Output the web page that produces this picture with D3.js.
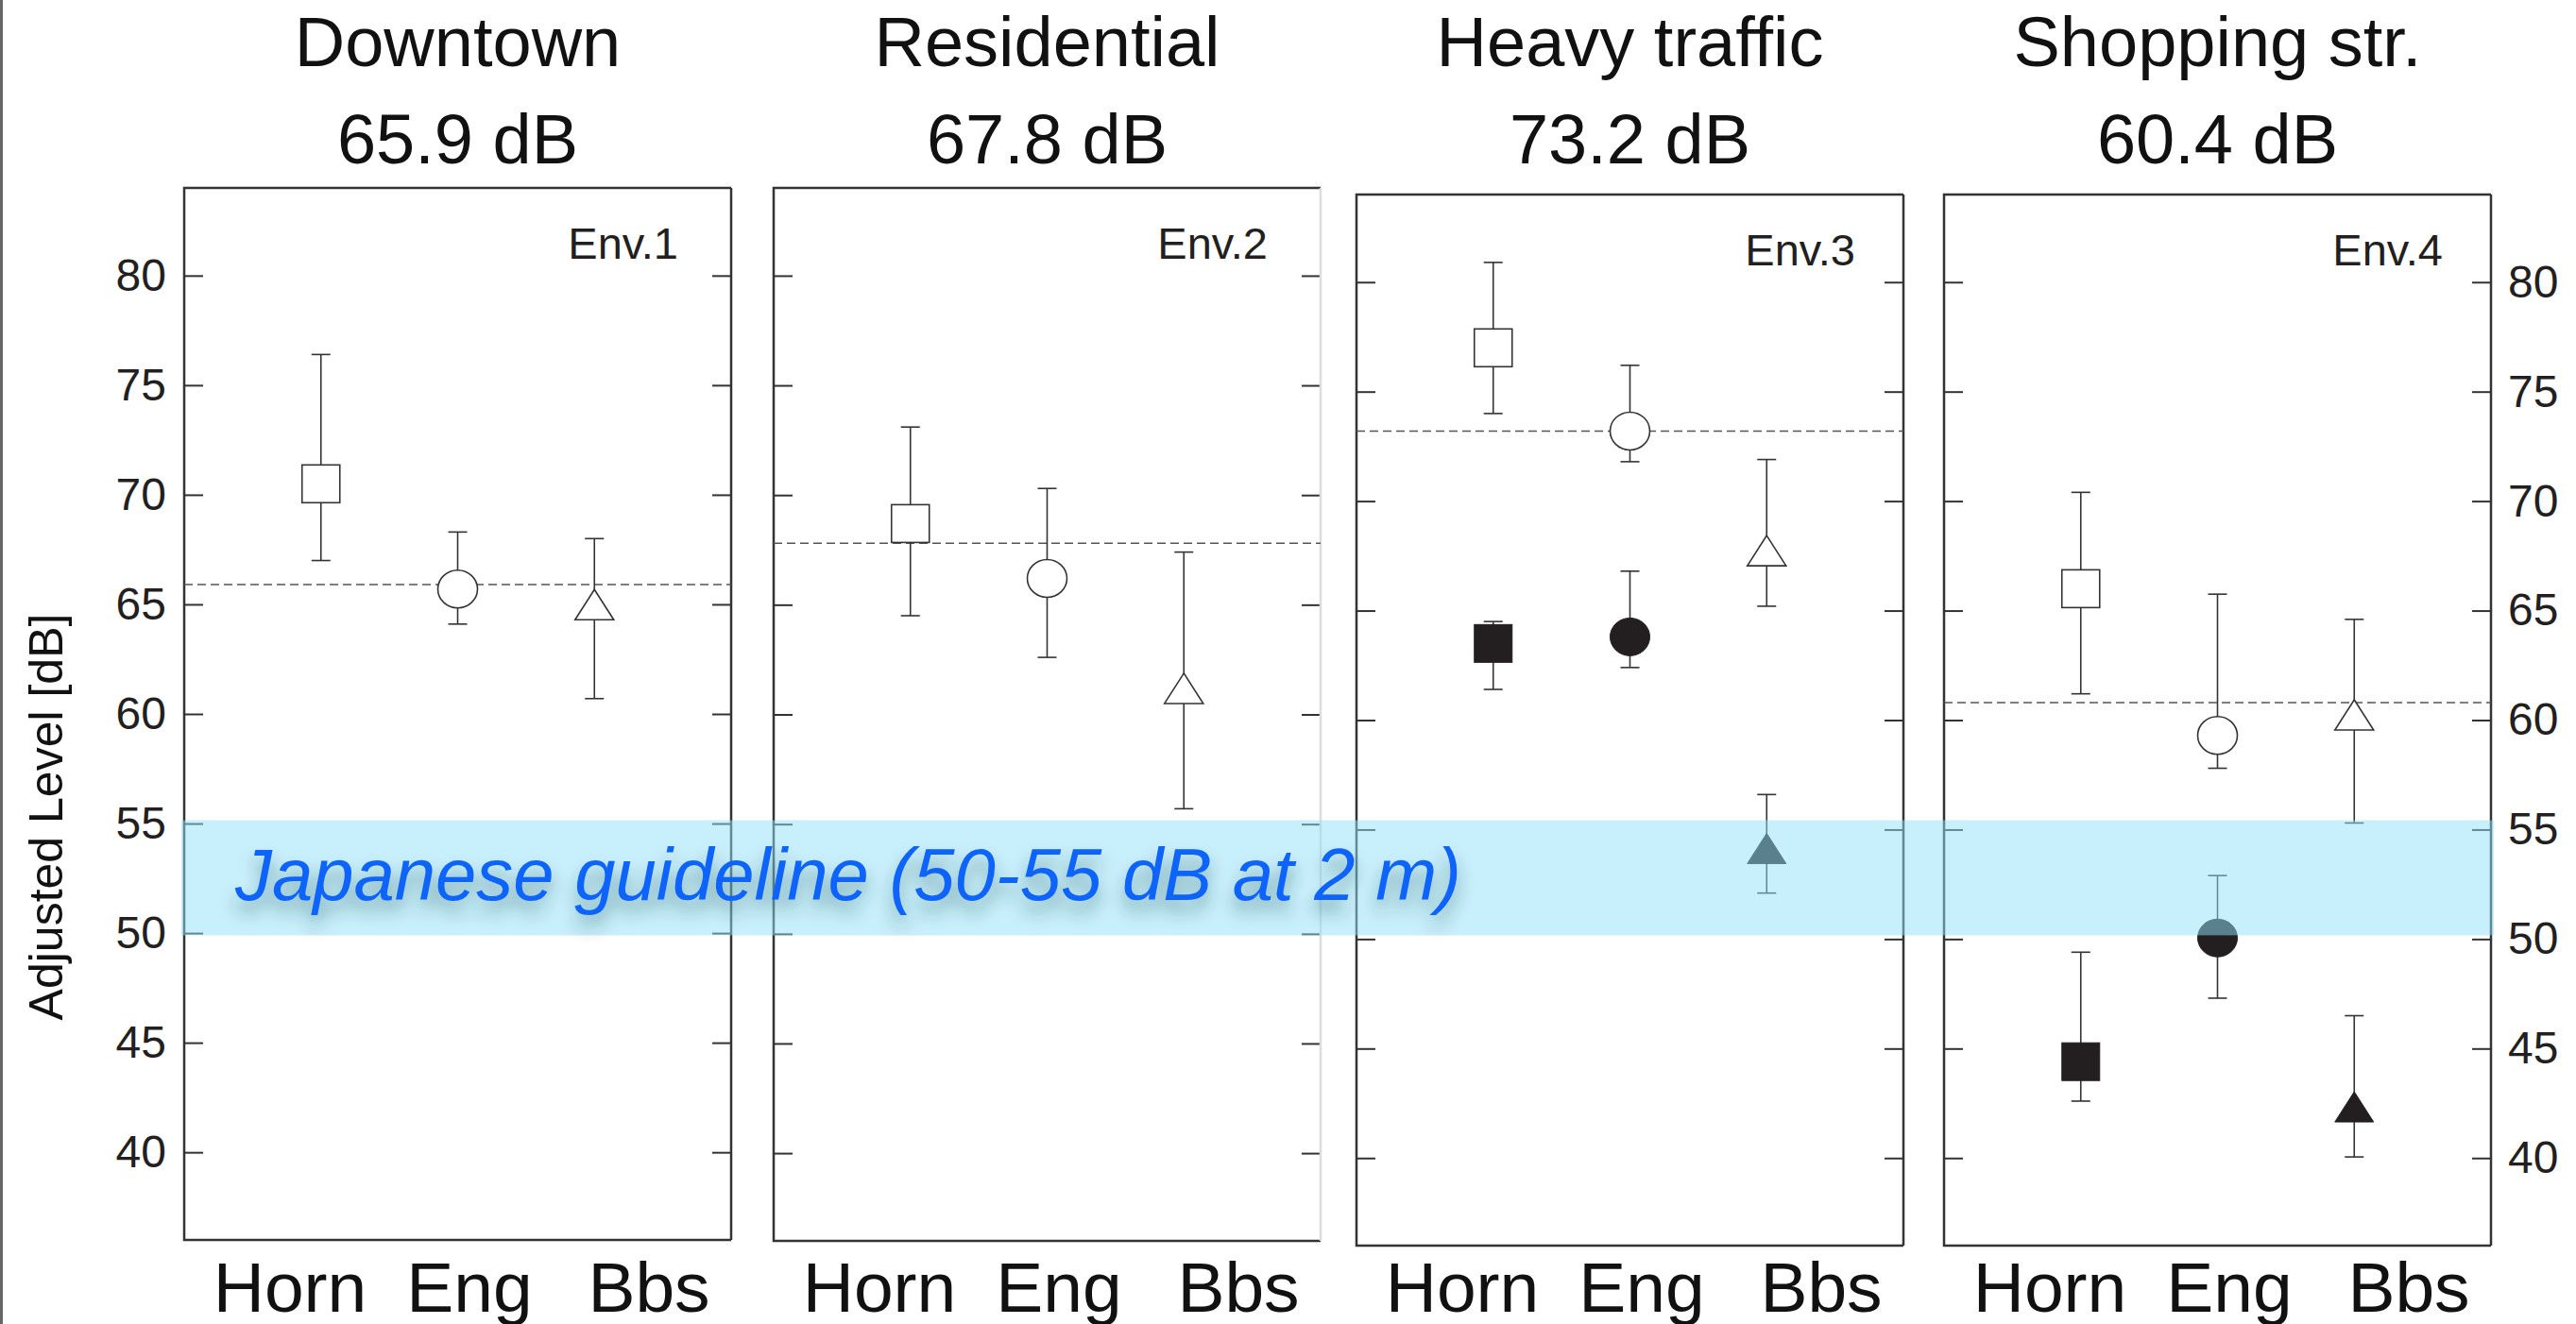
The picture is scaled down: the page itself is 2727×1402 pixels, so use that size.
<!DOCTYPE html>
<html>
<head>
<meta charset="utf-8">
<script src="https://cdn.jsdelivr.net/npm/d3@7"></script>
<style>
  body { margin: 0; background: #fff; }
  svg { display: block; font-family: "Liberation Sans", Arial, sans-serif; }
</style>
</head>
<body>
<svg id="chart"></svg>
<script>
// data
var categories = ["Horn", "Eng", "Bbs"];
var envNames = ["Downtown", "Residential", "Heavy traffic", "Shopping str."];
var envLevels = [65.9, 67.8, 73.2, 60.4];
var envTags = ["Env.1", "Env.2", "Env.3", "Env.4"];
var refLines = [65.9, 67.8, 73.2, 60.8];
var yTicks = [40, 45, 50, 55, 60, 65, 70, 75, 80];

// open markers: mean, lower, upper per env
var openMean = [[70.5, 65.7, 64.75], [68.7, 66.2, 60.95], [77.0, 73.2, 67.5], [66.0, 59.3, 60.0]];
var openLo   = [[67.0, 64.1, 60.7], [64.5, 62.6, 55.7], [74.0, 71.8, 65.2], [61.2, 57.8, 55.3]];
var openHi   = [[76.4, 68.3, 68.0], [73.1, 70.3, 67.4], [80.9, 76.2, 71.9], [70.4, 65.75, 64.6]];

// filled markers (only Env.3 and Env.4)
var fillMean = [null, null, [63.5, 63.8, 53.9], [44.4, 50.05, 42.1]];
var fillLo   = [null, null, [61.4, 62.4, 52.1], [42.6, 47.3, 40.05]];
var fillHi   = [null, null, [64.5, 66.8, 56.6], [49.4, 52.9, 46.5]];

var guideBand = [49.9, 55.15];
var guideText = "Japanese guideline (50-55 dB at 2 m)";

var W = 2727, H = 1402;
var panelX = [195, 819, 1436, 2058], panelW = 579;
var panelTop = [199, 199, 206, 206], panelBot = [1313, 1314, 1319, 1319];
var rightEdge = ["#333", "#dcdcdc", "#333", "#333"];
var ink = "#231f20";

var svg = d3.select("#chart").attr("width", W).attr("height", H);

var defs = svg.append("defs");
defs.append("filter").attr("id", "shadow")
  .attr("x", "-5%").attr("y", "-40%").attr("width", "110%").attr("height", "200%")
  .append("feDropShadow")
  .attr("dx", 0).attr("dy", 12).attr("stdDeviation", 9)
  .attr("flood-color", "#16323c").attr("flood-opacity", 0.45);

// figure frame line on the far left
svg.append("line").attr("x1", 1.5).attr("x2", 1.5).attr("y1", 0).attr("y2", H)
  .attr("stroke", "#666").attr("stroke-width", 3);

var xScale = d3.scalePoint().domain(categories).range([0, panelW]).padding(1);
var labelScale = d3.scalePoint().domain(categories).range([112, 492]);

var scales = [];

envNames.forEach(function(name, i) {
  var y = d3.scaleLinear().domain([36, 84]).range([panelBot[i], panelTop[i]]);
  scales.push(y);
  var g = svg.append("g").attr("transform", "translate(" + panelX[i] + ",0)");
  var h = panelBot[i] - panelTop[i];

  // titles
  g.append("text").attr("x", panelW / 2).attr("y", 70).attr("text-anchor", "middle")
    .attr("font-size", 74).attr("fill", "#111").text(name);
  g.append("text").attr("x", panelW / 2).attr("y", 173).attr("text-anchor", "middle")
    .attr("font-size", 74).attr("fill", "#111").text(envLevels[i].toFixed(1) + " dB");

  // left/right axes, ticks pointing inward
  var left = d3.axisLeft(y).tickValues(yTicks).tickSizeInner(-20).tickSizeOuter(0).tickPadding(19);
  if (i !== 0) left.tickFormat("");
  var la = g.append("g").call(left);
  var right = d3.axisRight(y).tickValues(yTicks).tickSizeInner(-20).tickSizeOuter(0).tickPadding(18);
  if (i !== 3) right.tickFormat("");
  var ra = g.append("g").attr("transform", "translate(" + panelW + ",0)").call(right);
  [la, ra].forEach(function(a) {
    a.select(".domain").remove();
    a.selectAll(".tick line").attr("stroke", "#333").attr("stroke-width", 2);
    a.selectAll(".tick text").attr("font-size", 48).attr("fill", ink)
      .attr("font-family", "Liberation Sans, Arial, sans-serif");
  });

  // frame
  var t = panelTop[i], b = panelBot[i];
  g.append("path").attr("d", "M" + panelW + "," + t + "H0V" + b + "H" + panelW)
    .attr("fill", "none").attr("stroke", "#333").attr("stroke-width", 2.5);
  g.append("line").attr("x1", panelW).attr("x2", panelW).attr("y1", t).attr("y2", b)
    .attr("stroke", rightEdge[i]).attr("stroke-width", 2.5);

  // env tag
  g.append("text").attr("x", panelW - (i < 2 ? 56 : 51)).attr("y", t + 75).attr("text-anchor", "end")
    .attr("font-size", 47).attr("fill", ink).text(envTags[i]);

  // dashed reference line
  g.append("line").attr("x1", 0).attr("x2", panelW)
    .attr("y1", y(refLines[i])).attr("y2", y(refLines[i]))
    .attr("stroke", "#555").attr("stroke-width", 1.6).attr("stroke-dasharray", "9,5");

  // category labels
  g.selectAll(".cat").data(categories).enter().append("text")
    .attr("x", function(d) { return labelScale(d); })
    .attr("y", 1389).attr("text-anchor", "middle")
    .attr("font-size", 75).attr("fill", "#111").text(function(d) { return d; });

  function drawSeries(mean, lo, hi, filled) {
    if (!mean) return;
    categories.forEach(function(c, k) {
      var cx = xScale(c);
      var eb = g.append("g").attr("stroke", "#333").attr("stroke-width", 1.6);
      eb.append("line").attr("x1", cx).attr("x2", cx).attr("y1", y(lo[k])).attr("y2", y(hi[k]));
      eb.append("line").attr("x1", cx - 10).attr("x2", cx + 10).attr("y1", y(lo[k])).attr("y2", y(lo[k]));
      eb.append("line").attr("x1", cx - 10).attr("x2", cx + 10).attr("y1", y(hi[k])).attr("y2", y(hi[k]));
      var cy = y(mean[k]);
      var m;
      if (k === 0) {
        m = g.append("rect").attr("x", cx - 20).attr("y", cy - 20).attr("width", 40).attr("height", 40);
      } else if (k === 1) {
        m = g.append("ellipse").attr("cx", cx).attr("cy", cy).attr("rx", 21).attr("ry", 20);
      } else {
        m = g.append("path").attr("d", "M" + cx + "," + (cy - 21.5) + "L" + (cx + 20.5) + "," + (cy + 10.5) +
          "L" + (cx - 20.5) + "," + (cy + 10.5) + "Z");
      }
      if (filled) m.attr("fill", ink).attr("stroke", ink).attr("stroke-width", 1);
      else m.attr("fill", "#fff").attr("stroke", "#333").attr("stroke-width", 1.6);
    });
  }
  drawSeries(openMean[i], openLo[i], openHi[i], false);
  drawSeries(fillMean[i], fillLo[i], fillHi[i], true);
});

// y axis title
svg.append("text").attr("transform", "translate(66,865) rotate(-90)")
  .attr("text-anchor", "middle").attr("font-size", 50).attr("fill", "#111")
  .text("Adjusted Level [dB]");

// guideline band, drawn over the marks
var y0 = scales[0];
svg.append("rect").attr("x", 192).attr("width", 2640 - 192)
  .attr("y", y0(guideBand[1])).attr("height", y0(guideBand[0]) - y0(guideBand[1]))
  .attr("fill", "rgb(146,225,249)").attr("fill-opacity", 0.5);

svg.append("text").attr("x", 249).attr("y", 953)
  .attr("font-size", 78).attr("font-style", "italic").attr("fill", "#0b64fa")
  .attr("textLength", 1298).attr("lengthAdjust", "spacingAndGlyphs")
  .attr("filter", "url(#shadow)").text(guideText);
</script>
</body>
</html>
